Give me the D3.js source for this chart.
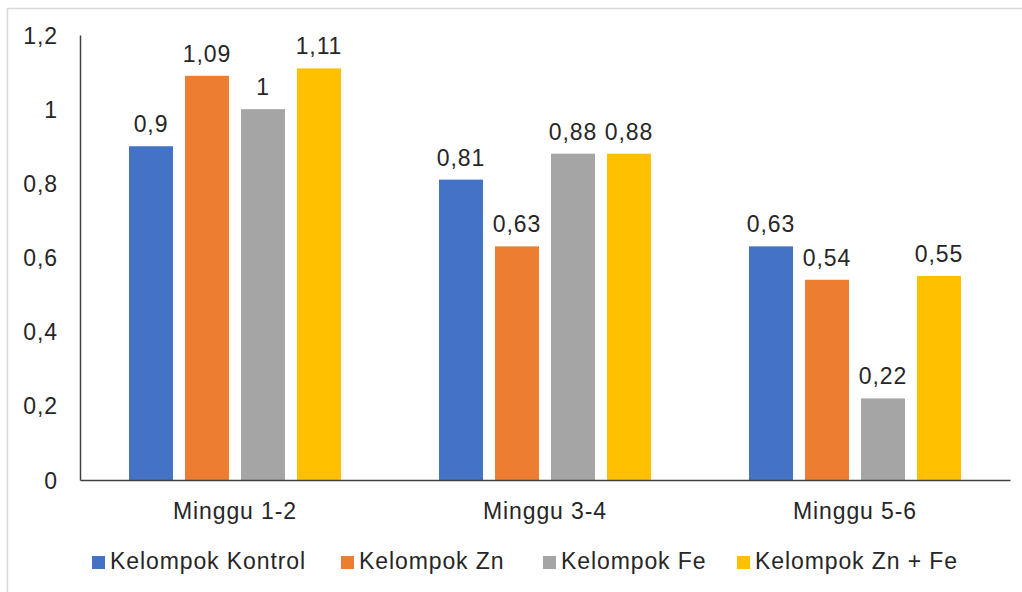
<!DOCTYPE html>
<html><head><meta charset="utf-8">
<script src="https://cdn.jsdelivr.net/npm/d3@7"></script>
<style>html,body{margin:0;padding:0;background:#fff}svg{display:block}</style>
</head><body>
<svg id="c" width="1022" height="592"></svg>
<script>
const categories = ["Minggu 1-2", "Minggu 3-4", "Minggu 5-6"];
const seriesNames = ["Kelompok Kontrol", "Kelompok Zn", "Kelompok Fe", "Kelompok Zn + Fe"];
const kontrol = [0.9, 0.81, 0.63];
const zn = [1.09, 0.63, 0.54];
const fe = [1.0, 0.88, 0.22];
const znfe = [1.11, 0.88, 0.55];
const yTicks = [0, 0.2, 0.4, 0.6, 0.8, 1.0, 1.2];
const colors = ["#4472C4", "#ED7D31", "#A5A5A5", "#FFC000"];

(function () {
const series = [kontrol, zn, fe, znfe];
const svg = d3.select("#c");
const font = "'Liberation Sans', Arial, sans-serif";
const txt = "#262626";
const fmt = v => String(+v.toFixed(2)).replace(".", ",");

svg.append("rect").attr("x", 7.5).attr("y", 8.5).attr("width", 1040).attr("height", 620)
  .attr("fill", "#fff").attr("stroke", "#d9d9d9").attr("stroke-width", 1.5);

const pLeft = 80, pRight = 1010, pTop = 35, pBottom = 480;
const y = d3.scaleLinear().domain([0, 1.2]).range([pBottom, pTop]);
const x0 = d3.scaleBand().domain(categories).range([pLeft, pRight]);
const x1 = d3.scaleBand().domain(seriesNames).range([49, 261]).paddingInner(0.214).paddingOuter(0);

// y axis
const yAxis = d3.axisLeft(y).tickValues(yTicks).tickSize(0).tickPadding(22).tickFormat(fmt);
const ga = svg.append("g").attr("transform", `translate(${pLeft},0)`).call(yAxis);
ga.select(".domain").attr("stroke", "#404040").attr("stroke-width", 1.5);
ga.selectAll("text").attr("font-family", font).attr("font-size", 23).attr("fill", txt)
  .attr("letter-spacing", 0.9).attr("dy", "0.35em");

// bars
categories.forEach((c, ci) => {
  const g = svg.append("g").attr("transform", `translate(${x0(c)},0)`);
  seriesNames.forEach((s, si) => {
    const v = series[si][ci];
    g.append("rect").attr("x", x1(s)).attr("y", y(v)).attr("width", x1.bandwidth())
      .attr("height", y(0) - y(v)).attr("fill", colors[si]);
    g.append("text").attr("x", x1(s) + x1.bandwidth() / 2).attr("y", y(v) - 14)
      .attr("text-anchor", "middle").attr("font-family", font).attr("font-size", 23)
      .attr("letter-spacing", 0.9).attr("fill", txt).text(fmt(v));
  });
});

// x axis
const xAxis = d3.axisBottom(x0).tickSize(0).tickPadding(0);
const gx = svg.append("g").attr("transform", `translate(0,${pBottom})`).call(xAxis);
gx.select(".domain").attr("stroke", "#404040").attr("stroke-width", 1.5);
gx.selectAll("text").attr("font-family", font).attr("font-size", 23).attr("fill", txt)
  .attr("letter-spacing", 0.9).attr("y", 39).attr("dy", 0);

// legend
const legX = [92, 341, 543, 737];
const lg = svg.append("g");
seriesNames.forEach((s, i) => {
  lg.append("rect").attr("x", legX[i]).attr("y", 556).attr("width", 13).attr("height", 13).attr("fill", colors[i]);
  lg.append("text").attr("x", legX[i] + 18).attr("y", 569).attr("font-family", font).attr("font-size", 23)
    .attr("letter-spacing", 0.9).attr("fill", txt).text(s);
});
})();
</script>
</body></html>
